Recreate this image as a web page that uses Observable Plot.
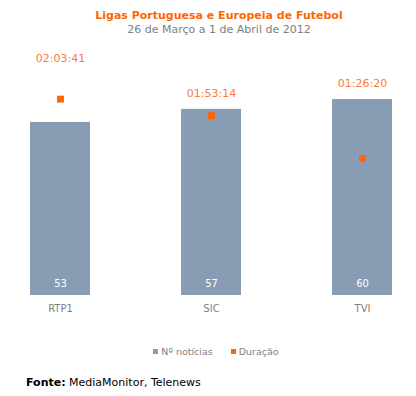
<!DOCTYPE html>
<html><head><meta charset="utf-8">
<script src="https://cdn.jsdelivr.net/npm/d3@7"></script>
<script src="https://cdn.jsdelivr.net/npm/@observablehq/plot@0.6"></script>
<style>
html,body{margin:0;padding:0;background:#fff;overflow:hidden;}
body{width:416px;height:396px;position:relative;font-family:"DejaVu Sans",Verdana,sans-serif;}
#title{position:absolute;top:9px;left:0;width:438px;text-align:center;font-size:11px;font-weight:bold;color:#ff6600;}
#subtitle{position:absolute;top:23px;left:0;width:438px;text-align:center;font-size:11px;color:#808080;}
#chart{position:absolute;top:38px;left:0;}
#legend{position:absolute;top:346px;left:0;width:432px;display:flex;justify-content:center;gap:18px;font-size:9.5px;color:#7f7f7f;}
#legend span.sw{display:inline-block;width:5px;height:5px;margin-right:3px;vertical-align:1px;}
#caption{position:absolute;top:376px;left:26px;font-size:11px;color:#000;}
</style>
</head><body>
<div id="title">Ligas Portuguesa e Europeia de Futebol</div>
<div id="subtitle">26 de Março a 1 de Abril de 2012</div>
<div id="chart"></div>
<div id="legend"></div>
<div id="caption"><b>Fonte:</b> MediaMonitor, Telenews</div>
<script>
const categories = ["RTP1", "SIC", "TVI"];
const noticias = [53, 57, 60];
const duracao = ["02:03:41", "01:53:14", "01:26:20"];
const yAxisMax = 70;
const y2AxisMax = "02:24:00";
const seriesNames = ["Nº notícias", "Duração"];
const colors = ["#889cb4", "#ff6600"];

const toSec = s => s.split(":").reduce((a, v) => a * 60 + (+v), 0);
const ratio = yAxisMax / toSec(y2AxisMax);
const data = categories.map((c, i) => ({
  cat: c, n: noticias[i], dur: duracao[i], durY: toSec(duracao[i]) * ratio
}));
const aboveSquare = data.filter(d => d.durY > d.n);
const aboveBar = data.filter(d => d.durY <= d.n);

const chart = Plot.plot({
  width: 416, height: 290,
  marginLeft: 6.5, marginRight: 0.5, marginTop: 28.4, marginBottom: 33,
  x: {domain: categories, paddingInner: 0.6, paddingOuter: 0.15, label: null},
  y: {domain: [0, yAxisMax], axis: null},
  style: {fontFamily: "DejaVu Sans, Verdana, sans-serif", background: "white"},
  marks: [
    Plot.barY(data, {x: "cat", y: "n", fill: colors[0]}),
    Plot.text(data, {x: "cat", y: 0, text: d => String(d.n), fill: "white", fontSize: 10, dy: -12}),
    Plot.dot(data, {x: "cat", y: "durY", symbol: "square", r: 3.9, fill: colors[1], stroke: "none"}),
    Plot.text(aboveSquare, {x: "cat", y: "durY", text: "dur", fill: "#ff7a3a", fontSize: 11, dy: -41}),
    Plot.text(aboveBar, {x: "cat", y: "n", text: "dur", fill: "#ff7a3a", fontSize: 11, dy: -16}),
    Plot.axisX({tickSize: 0, tickPadding: 9, fontSize: 10, color: "#7f7f7f", label: null})
  ]
});
document.getElementById("chart").appendChild(chart);

const leg = document.getElementById("legend");
seriesNames.forEach((name, i) => {
  const item = document.createElement("div");
  item.innerHTML = `<span class="sw" style="background:${colors[i]}"></span>${name}`;
  leg.appendChild(item);
});
</script>
</body></html>
